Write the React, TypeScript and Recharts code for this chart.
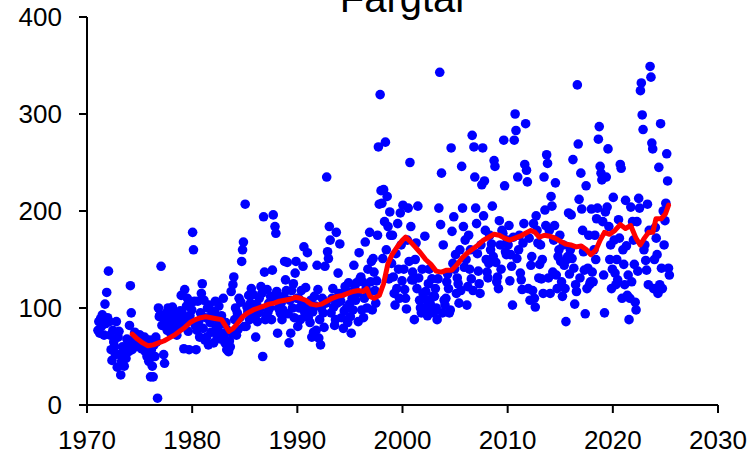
import { ScatterChart, Scatter, XAxis, YAxis } from "recharts";

// monthly readings, one row per year, first row = 1971
const FIRST_YEAR = 1971;

const vals1970s = [
  [77, 86, 74, 89, 81, 93, 86, 72, 104, 84, 116, 90],
  [138, 86, 72, 57, 46, 77, 65, 60, 52, 86, 39, 70],
  [76, 52, 31, 45, 60, 50, 40, 57, 48, 68, 62, 55],
  [82, 123, 95, 57, 62, 68, 75, 64, 70, 66, 60, 72],
  [72, 65, 58, 67, 62, 70, 55, 60, 50, 63, 45, 67],
  [29, 57, 40, 29, 62, 50, 70, 65, 7, 100, 91, 93],
  [143, 82, 91, 52, 43, 88, 95, 77, 100, 85, 92, 74],
  [86, 101, 78, 93, 84, 95, 72, 88, 91, 80, 97, 113],
  [95, 84, 58, 119, 88, 102, 110, 76, 57, 92, 105, 98],
];

const vals1980s = [
  [178, 160, 107, 82, 57, 77, 107, 86, 70, 95, 115, 125],
  [79, 108, 67, 90, 70, 100, 62, 103, 85, 75, 94, 96],
  [64, 96, 107, 80, 70, 88, 102, 75, 68, 92, 84, 110],
  [70, 64, 85, 57, 77, 55, 66, 60, 117, 74, 124, 132],
  [88, 100, 72, 95, 78, 110, 90, 106, 148, 160, 168, 81],
  [207, 81, 101, 96, 113, 88, 105, 120, 100, 114, 92, 91],
  [70, 104, 86, 95, 110, 99, 122, 115, 50, 194, 137, 88],
  [92, 119, 96, 105, 100, 112, 88, 139, 196, 108, 184, 177],
  [117, 74, 100, 110, 95, 105, 88, 98, 112, 148, 129, 118],
  [147, 94, 64, 108, 74, 118, 100, 125, 90, 136, 148, 110],
];

const vals1990s = [
  [81, 110, 100, 88, 118, 105, 143, 163, 95, 121, 97, 157],
  [90, 100, 85, 108, 70, 96, 75, 112, 102, 77, 144, 119],
  [69, 88, 62, 100, 110, 95, 80, 143, 105, 235, 158, 151],
  [184, 170, 95, 110, 120, 101, 82, 88, 178, 105, 136, 115],
  [166, 107, 90, 115, 79, 97, 122, 118, 100, 85, 126, 104],
  [91, 74, 110, 98, 144, 120, 108, 126, 115, 86, 157, 130],
  [132, 98, 127, 90, 110, 168, 120, 100, 140, 115, 178, 127],
  [148, 98, 151, 137, 118, 105, 128, 175, 266, 207, 320, 221],
  [208, 151, 222, 189, 271, 160, 215, 184, 130, 199, 175, 146],
  [175, 132, 115, 103, 156, 120, 187, 140, 110, 198, 165, 128],
];

const vals2000s = [
  [206, 140, 119, 110, 99, 170, 203, 148, 250, 184, 129, 137],
  [129, 88, 150, 167, 120, 205, 131, 108, 100, 95, 140, 115],
  [100, 174, 117, 108, 92, 125, 140, 105, 98, 130, 112, 95],
  [112, 120, 100, 88, 130, 203, 343, 186, 239, 95, 165, 108],
  [103, 110, 127, 135, 120, 95, 98, 265, 179, 146, 194, 140],
  [155, 115, 131, 125, 105, 160, 118, 246, 203, 184, 142, 170],
  [150, 103, 122, 175, 140, 160, 130, 278, 118, 266, 235, 203],
  [187, 156, 138, 125, 115, 165, 227, 265, 195, 231, 180, 150],
  [137, 131, 146, 175, 160, 166, 205, 153, 252, 246, 147, 127],
  [132, 120, 190, 165, 140, 180, 177, 273, 226, 158, 155, 170],
];

const vals2010s = [
  [165, 185, 128, 155, 143, 103, 173, 273, 300, 283, 151, 235],
  [160, 175, 136, 129, 119, 167, 187, 248, 290, 242, 230, 120],
  [172, 108, 144, 153, 118, 187, 110, 101, 195, 180, 167, 131],
  [145, 165, 130, 150, 115, 235, 201, 185, 258, 249, 131, 180],
  [115, 215, 205, 137, 170, 185, 229, 134, 120, 153, 160, 175],
  [148, 127, 112, 165, 144, 120, 86, 150, 153, 198, 135, 160],
  [196, 151, 253, 141, 104, 124, 117, 330, 269, 212, 131, 239],
  [202, 180, 158, 139, 94, 226, 120, 141, 175, 124, 127, 202],
  [137, 127, 160, 175, 150, 192, 203, 274, 287, 246, 239, 232],
  [189, 134, 95, 199, 235, 204, 264, 184, 150, 165, 120, 140],
];

const vals2020s = [
  [214, 170, 136, 124, 150, 129, 191, 172, 248, 244, 110, 160],
  [145, 124, 211, 164, 113, 134, 88, 110, 204, 127, 189, 170],
  [145, 106, 98, 189, 138, 213, 203, 324, 332, 299, 284, 160],
  [165, 149, 139, 207, 124, 180, 349, 338, 270, 264, 120, 150],
  [183, 172, 155, 115, 245, 124, 290, 141, 120, 200, 165, 190],
  [208, 259, 231, 141, 134],
];

// running mean (red)
const maYears = [
  1974.3, 1974.8, 1975.3, 1975.8, 1976.3, 1976.8, 1977.3, 1977.8, 1978.3, 1978.8,
  1979.3, 1979.8, 1980.3, 1980.8, 1981.3, 1981.8, 1982.3, 1982.8, 1983.2, 1983.5,
  1983.9, 1984.3, 1984.8, 1985.3, 1985.8, 1986.3, 1986.8, 1987.3, 1987.8, 1988.3,
  1988.8, 1989.3, 1989.8, 1990.3, 1990.8, 1991.3, 1991.8, 1992.3, 1992.8, 1993.3,
  1993.8, 1994.3, 1994.8, 1995.3, 1995.8, 1996.3, 1996.6, 1996.9, 1997.3, 1997.8,
  1998.2, 1998.6, 1999.0, 1999.5, 2000.0, 2000.3, 2000.7, 2001.2, 2001.7, 2002.2,
  2002.7, 2003.2, 2003.7, 2004.2, 2004.7, 2005.2, 2005.7, 2006.2, 2006.7, 2007.2,
  2007.7, 2008.2, 2008.7, 2009.2, 2009.7, 2010.2, 2010.7, 2011.2, 2011.7, 2012.2,
  2012.6, 2013.0, 2013.5, 2014.0, 2014.5, 2015.0, 2015.5, 2016.0, 2016.5, 2017.0,
  2017.5, 2017.9, 2018.4, 2018.8, 2019.2, 2019.7, 2020.2, 2020.7, 2021.2, 2021.7,
  2022.2, 2022.6, 2023.0, 2023.4, 2023.8, 2024.1, 2024.6, 2025.0, 2025.3,
];
const maValues = [
  73, 68, 64, 61, 62, 64, 66, 69, 72, 76,
  80, 85, 88, 90, 91, 90, 89, 88, 81, 76,
  79, 84, 91, 95, 98, 100, 102, 104, 105, 107,
  108, 109, 111, 110, 108, 104, 103, 104, 107, 110,
  112, 113, 115, 117, 118, 117, 120, 112, 110, 113,
  125, 145, 155, 163, 170, 173, 169, 163, 157, 150,
  145, 138, 137, 139, 139, 145, 152, 157, 161, 165,
  170, 173, 176, 175, 172, 170, 172, 174, 177, 180,
  178, 173, 175, 174, 172, 169, 166, 165, 163, 164,
  160, 155, 160, 170, 178, 176, 180, 186, 182, 185,
  172, 165, 172, 178, 178, 192, 192, 197, 206,
];

const xTicks = [1970, 1980, 1990, 2000, 2010, 2020, 2030];
const yTicks = [0, 100, 200, 300, 400];

const FONT = '"Liberation Sans", Arial, sans-serif';

const monthly = [...vals1970s, ...vals1980s, ...vals1990s, ...vals2000s, ...vals2010s, ...vals2020s];
const points = monthly.flatMap((row, r) =>
  row.map((v, i) => ({ x: FIRST_YEAR + r + (i + 0.5) / 12, y: v }))
);
const maData = maYears.map((x, i) => ({ x, y: maValues[i] }));

const Dot = (props: any) => <circle cx={props.cx} cy={props.cy} r={4.8} fill="#0000FF" />;
const NoDot = () => <g />;

export default function App() {
  return (
    <div style={{ position: "relative", width: 749, height: 455 }}>
      <style>{"body{margin:0}"}</style>
      <ScatterChart width={749} height={455} margin={{ top: 17, right: 31, bottom: 20, left: 27 }}>
        <XAxis
          type="number"
          dataKey="x"
          domain={[1970, 2030]}
          ticks={xTicks}
          interval={0}
          allowDataOverflow
          height={30}
          tickSize={8}
          tickMargin={18}
          axisLine={{ stroke: "#000", strokeWidth: 2 }}
          tickLine={{ stroke: "#000", strokeWidth: 2 }}
          tick={{ fill: "#000", fontSize: 26, fontFamily: FONT }}
        />
        <YAxis
          type="number"
          dataKey="y"
          domain={[0, 400]}
          ticks={yTicks}
          interval={0}
          allowDataOverflow
          width={60}
          tickSize={8}
          tickMargin={17}
          axisLine={{ stroke: "#000", strokeWidth: 2 }}
          tickLine={{ stroke: "#000", strokeWidth: 2 }}
          tick={{ fill: "#000", fontSize: 26, fontFamily: FONT }}
        />
        <Scatter data={points} shape={Dot} isAnimationActive={false} />
        <Scatter
          data={maData}
          shape={NoDot}
          line={{ stroke: "#FF0000", strokeWidth: 5, strokeLinejoin: "round", strokeLinecap: "round" }}
          lineType="joint"
          isAnimationActive={false}
        />
      </ScatterChart>
      <svg width={749} height={455} style={{ position: "absolute", left: 0, top: 0, pointerEvents: "none" }}>
        <text x={402} y={12} textAnchor="middle" fontSize={40} fontFamily={FONT} fill="#000">
          Fargtal
        </text>
      </svg>
    </div>
  );
}
